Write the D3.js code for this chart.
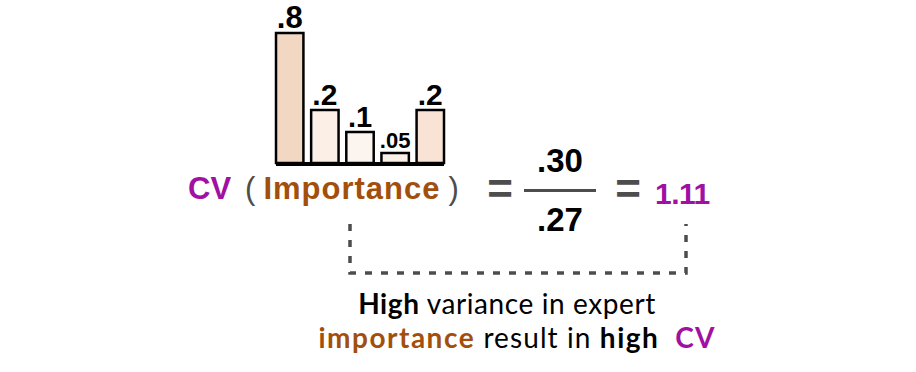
<!DOCTYPE html>
<html>
<head>
<meta charset="utf-8">
<script src="https://cdn.jsdelivr.net/npm/d3@7"></script>
<style>
  body { margin: 0; background: #fff; }
  svg { display: block; }
</style>
</head>
<body>
<svg id="chart"></svg>
<script>
// values
var experts = ["e1", "e2", "e3", "e4", "e5"];
var importance = [0.8, 0.2, 0.1, 0.05, 0.2];
var labels = [".8", ".2", ".1", ".05", ".2"];
var fills = ["#f2d7c2", "#fbefe6", "#fcf4ee", "#fbf0e7", "#f8e3d5"];
var labelSize = [31, 30, 29, 22, 30];
var meanText = ".30";
var sdText = ".27";
var cvText = "1.11";

var purple = "#a10fa3";
var brown = "#a34f0c";
var grey = "#4d4d4d";

var svg = d3.select("#chart")
  .attr("width", 916)
  .attr("height", 372);

// small bar chart
var xScale = d3.scaleBand()
  .domain(experts)
  .range([276, 444])
  .paddingInner(0.22)
  .paddingOuter(0);

// the picture is not drawn to a linear scale, so map piecewise
var yScale = d3.scaleLinear()
  .domain([0, 0.05, 0.1, 0.2, 0.8])
  .range([163, 153, 132, 110, 33]);

var bars = svg.append("g");

bars.selectAll("rect")
  .data(importance)
  .enter()
  .append("rect")
  .attr("x", function(d, i) { return xScale(experts[i]); })
  .attr("width", xScale.bandwidth())
  .attr("y", function(d) { return yScale(d); })
  .attr("height", function(d) { return yScale(0) - yScale(d); })
  .attr("fill", function(d, i) { return fills[i]; })
  .attr("stroke", "#000")
  .attr("stroke-width", 2.5);

bars.selectAll("text")
  .data(importance)
  .enter()
  .append("text")
  .attr("x", function(d, i) { return xScale(experts[i]) + xScale.bandwidth() / 2; })
  .attr("y", function(d) { return yScale(d) - 5; })
  .attr("text-anchor", "middle")
  .attr("font-family", "Liberation Sans, Arial, sans-serif")
  .attr("font-weight", "bold")
  .attr("font-size", function(d, i) { return labelSize[i]; })
  .text(function(d, i) { return labels[i]; });

bars.append("line")
  .attr("x1", 276).attr("x2", 444)
  .attr("y1", yScale(0) + 1).attr("y2", yScale(0) + 1)
  .attr("stroke", "#000")
  .attr("stroke-width", 4);

// formula
var f = svg.append("g")
  .attr("font-family", "Liberation Sans, Arial, sans-serif")
  .attr("font-weight", "bold");

var t = f.append("text")
  .attr("x", 188)
  .attr("y", 199)
  .attr("font-size", 31);
t.append("tspan").attr("fill", purple).text("CV");
t.append("tspan").attr("fill", grey).attr("font-weight", "normal").attr("dx", 14).text("(");
t.append("tspan").attr("fill", brown).attr("dx", 8).attr("letter-spacing", 1).text("Importance");
t.append("tspan").attr("fill", grey).attr("font-weight", "normal").attr("dx", 8).text(")");

f.append("text")
  .attr("x", 500).attr("y", 204)
  .attr("text-anchor", "middle")
  .attr("font-size", 44)
  .attr("fill", grey)
  .text("=");

f.append("text")
  .attr("x", 560).attr("y", 172)
  .attr("text-anchor", "middle")
  .attr("font-size", 33)
  .attr("fill", "#000")
  .text(meanText);

f.append("line")
  .attr("x1", 524).attr("x2", 596)
  .attr("y1", 190.5).attr("y2", 190.5)
  .attr("stroke", grey)
  .attr("stroke-width", 3);

f.append("text")
  .attr("x", 560).attr("y", 231)
  .attr("text-anchor", "middle")
  .attr("font-size", 33)
  .attr("fill", "#000")
  .text(sdText);

f.append("text")
  .attr("x", 628).attr("y", 204)
  .attr("text-anchor", "middle")
  .attr("font-size", 44)
  .attr("fill", grey)
  .text("=");

f.append("text")
  .attr("x", 655).attr("y", 204)
  .attr("font-size", 30)
  .attr("letter-spacing", -0.5)
  .attr("fill", purple)
  .text(cvText);

// dashed bracket
svg.append("path")
  .attr("d", "M350,224 L350,273 L686,273 L686,224")
  .attr("fill", "none")
  .attr("stroke", grey)
  .attr("stroke-width", 3.5)
  .attr("stroke-dasharray", "7,9");

// caption
var cap = svg.append("g")
  .attr("font-family", "Lato, Open Sans, sans-serif")
  .attr("font-size", 28)
  .attr("letter-spacing", 0.6)
  .attr("text-anchor", "middle");

var l1 = cap.append("text").attr("x", 507).attr("y", 314).attr("fill", "#000");
l1.append("tspan").attr("font-weight", "bold").text("High");
l1.append("tspan").text(" variance in expert");

var l2 = cap.append("text").attr("x", 517).attr("y", 348).attr("fill", "#000")
  .attr("letter-spacing", 1.1);
l2.append("tspan").attr("font-weight", "bold").attr("fill", brown).attr("letter-spacing", 1.5).text("importance");
l2.append("tspan").text(" result in ");
l2.append("tspan").attr("font-weight", "bold").attr("letter-spacing", 1.5).text("high");
l2.append("tspan").attr("font-weight", "bold").attr("fill", purple).attr("dx", 16).text("CV");
</script>
</body>
</html>
